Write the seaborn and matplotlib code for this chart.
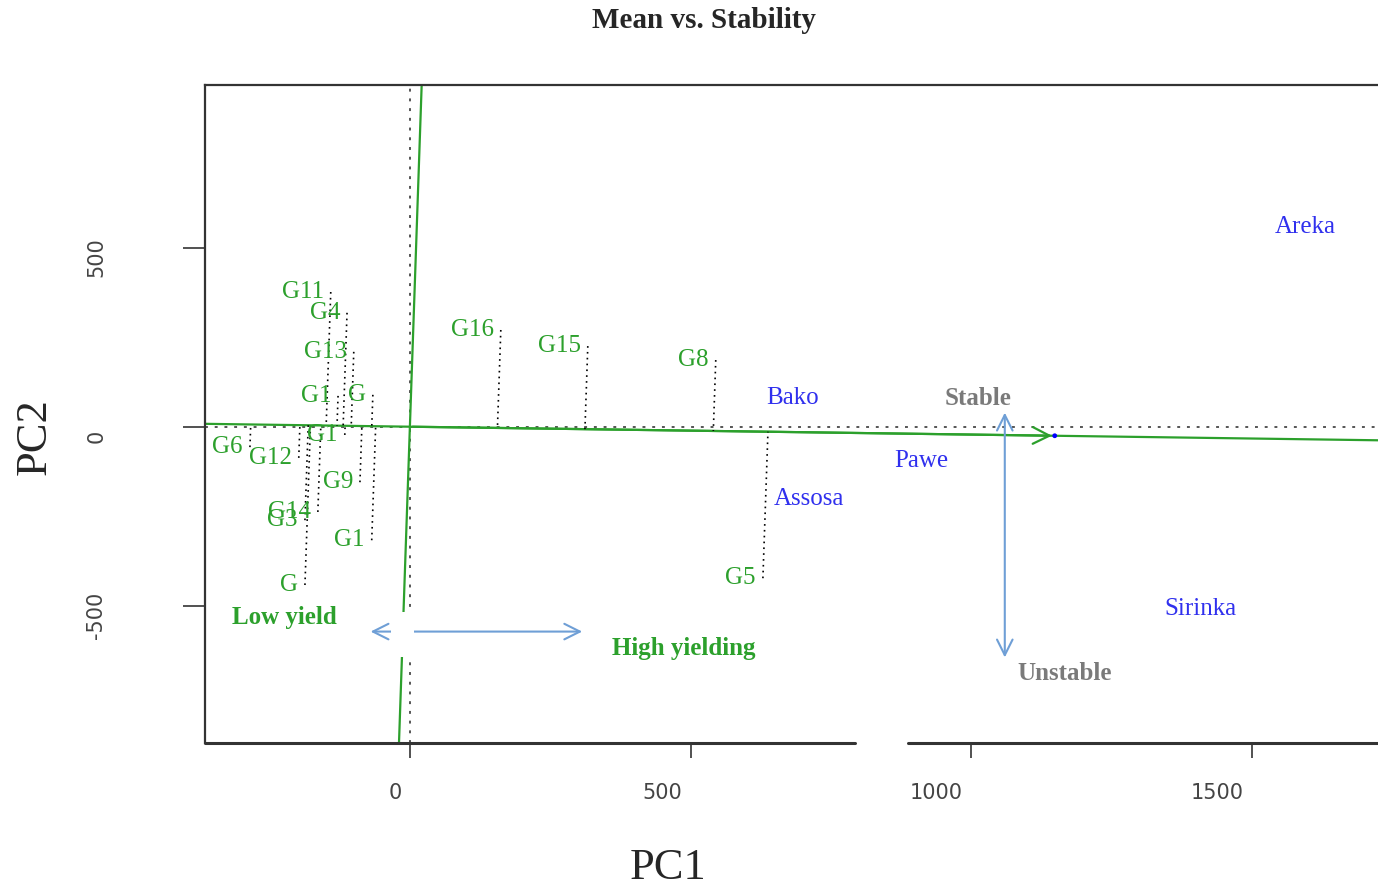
import matplotlib
matplotlib.use("Agg")
import matplotlib.pyplot as plt
import matplotlib.transforms as mtransforms
from matplotlib.lines import Line2D
from matplotlib.patches import Rectangle
import numpy as np
import pandas as pd
import seaborn as sns

# genotype scores (PC1, PC2)
gen_names = ["G11", "G4", "G13", "G1", "G", "G1", "G6", "G12", "G9", "G14",
             "G3", "G1", "G", "G16", "G15", "G8", "G5"]
gen_pc1 = [-141, -112, -100, -128, -66, -116, -285, -198, -89, -164,
           -187, -68, -187, 162, 317, 545, 629]
gen_pc2 = [376, 318, 209, 86, 89, -23, -57, -87, -155, -238,
           -261, -317, -442, 270, 225, 186, -423]

# environments
env_names = ["Bako", "Assosa", "Pawe", "Sirinka", "Areka"]
env_pc1 = [682, 711, 912, 1408, 1595]
env_pc2 = [80, -202, -96, -509, 558]

# average environment axis (slope through origin) and arrow tip on PC1
aea_slope = -0.022
aec_pc1 = 1149

x_ticks = [0, 500, 1000, 1500]
y_ticks = [-500, 0, 500]

GREEN = "#2ca02c"
BLUE = "#3030ee"
GREY = "#7a7a7a"
ARROW = "#6f9fd6"

sns.set_theme(style="white")
plt.rcParams["font.family"] = ["Liberation Serif", "DejaVu Serif"]

fig = plt.figure(figsize=(13.78, 8.9), dpi=100)
ax = fig.add_axes([0.1488, 0.1652, 0.8512, 0.7393])
ax.set_xlim(-365, 1725)
ax.set_ylim(-883, 954)

# reference dotted axes at 0
ax.axhline(0, color="#555555", lw=1.4, linestyle=(0, (1.5, 3.5)), zorder=1)
ax.axvline(0, color="#555555", lw=1.4, linestyle=(0, (1.5, 3.5)), zorder=1)

# ATC abscissa and ordinate (green)
ax.axline((0, 0), slope=aea_slope, color=GREEN, lw=1.6, zorder=2)
ax.axline((0, 0), slope=-1 / aea_slope, color=GREEN, lw=1.6, zorder=2)
ax.annotate("", xy=(aec_pc1, aec_pc1 * aea_slope), xytext=(0, 0),
            arrowprops=dict(arrowstyle="->", color=GREEN, lw=1.6,
                            mutation_scale=30), zorder=3)
sns.scatterplot(x=[aec_pc1], y=[aec_pc1 * aea_slope], color="blue", s=12,
                edgecolor="none", ax=ax, zorder=4)

# projections of genotypes onto the abscissa
d = np.array([1.0, aea_slope]) / np.hypot(1.0, aea_slope)
rows = []
for i, (n, x, y) in enumerate(zip(gen_names, gen_pc1, gen_pc2)):
    t = x * d[0] + y * d[1]
    rows.append({"g": i, "x": x, "y": y})
    rows.append({"g": i, "x": t * d[0], "y": t * d[1]})
proj = pd.DataFrame(rows)
sns.lineplot(data=proj, x="x", y="y", units="g", estimator=None, sort=False,
             color="black", lw=1.2, linestyle=(0, (1, 2.5)), legend=False,
             ax=ax, zorder=3)

# genotype labels (left of point)
for n, x, y in zip(gen_names, gen_pc1, gen_pc2):
    ax.annotate(n, (x, y), xytext=(-5, 0), textcoords="offset points",
                ha="right", va="center", color=GREEN, fontsize=18, zorder=5)

# environment labels
for n, x, y in zip(env_names, env_pc1, env_pc2):
    ax.text(x, y, n, ha="center", va="center", color=BLUE, fontsize=18, zorder=5)

# added annotations
ax.text(-223, -534, "Low yield", color=GREEN, fontsize=18, fontweight="bold",
        ha="center", va="center")
ax.text(488, -618, "High yielding", color=GREEN, fontsize=18, fontweight="bold",
        ha="center", va="center")
ax.text(1012, 80, "Stable", color=GREY, fontsize=18, fontweight="bold",
        ha="center", va="center")
ax.text(1167, -688, "Unstable", color=GREY, fontsize=18, fontweight="bold",
        ha="center", va="center")
ax.annotate("", xy=(312, -572), xytext=(-75, -572),
            arrowprops=dict(arrowstyle="<->", color=ARROW, lw=1.5,
                            mutation_scale=28), zorder=6)
ax.annotate("", xy=(1060, 47), xytext=(1060, -652),
            arrowprops=dict(arrowstyle="<->", color=ARROW, lw=1.5,
                            mutation_scale=28), zorder=6)
ax.add_patch(Rectangle((-34, -643), 41, 125, facecolor="white",
                       edgecolor="none", zorder=7))

# spines: left and top, bottom broken in two
for s in ["right", "bottom"]:
    ax.spines[s].set_visible(False)
for s in ["left", "top"]:
    ax.spines[s].set_color("#333333")
    ax.spines[s].set_linewidth(1.6)
for a, b in [(0, 0.554), (0.599, 1.0)]:
    ax.add_line(Line2D([a, b], [0, 0], transform=ax.transAxes, color="#333333",
                       lw=2.2, clip_on=False))

# ticks
ax.set_xticks(x_ticks)
ax.set_yticks(y_ticks)
ax.set_xticklabels([str(v) for v in x_ticks], ha="right")
ax.set_yticklabels([str(v) for v in y_ticks], rotation=90, va="center")
ax.tick_params(axis="x", bottom=True, length=11, width=1.2, color="#333333",
               pad=18, labelsize=15, labelcolor="#444444")
ax.tick_params(axis="y", left=True, length=16, width=1.2, color="#333333",
               pad=55, labelsize=15, labelcolor="#444444")
for lab in ax.get_xticklabels() + ax.get_yticklabels():
    lab.set_fontfamily("DejaVu Sans")
off_x = mtransforms.ScaledTranslation(-0.08, 0, fig.dpi_scale_trans)
off_y = mtransforms.ScaledTranslation(0, -0.10, fig.dpi_scale_trans)
for lab in ax.get_xticklabels():
    lab.set_transform(lab.get_transform() + off_x)
for lab in ax.get_yticklabels():
    lab.set_transform(lab.get_transform() + off_y)

ax.set_xlabel("PC1", fontsize=32, va="center")
ax.xaxis.set_label_coords(0.395, -0.19)
ax.set_ylabel("PC2", fontsize=32, va="center")
ax.yaxis.set_label_coords(-0.145, 0.465)

fig.text(704 / 1378, 1 - 20 / 890, "Mean vs. Stability", ha="center",
         va="center", fontsize=21, fontweight="bold")

fig.savefig("out.png", dpi=100)
